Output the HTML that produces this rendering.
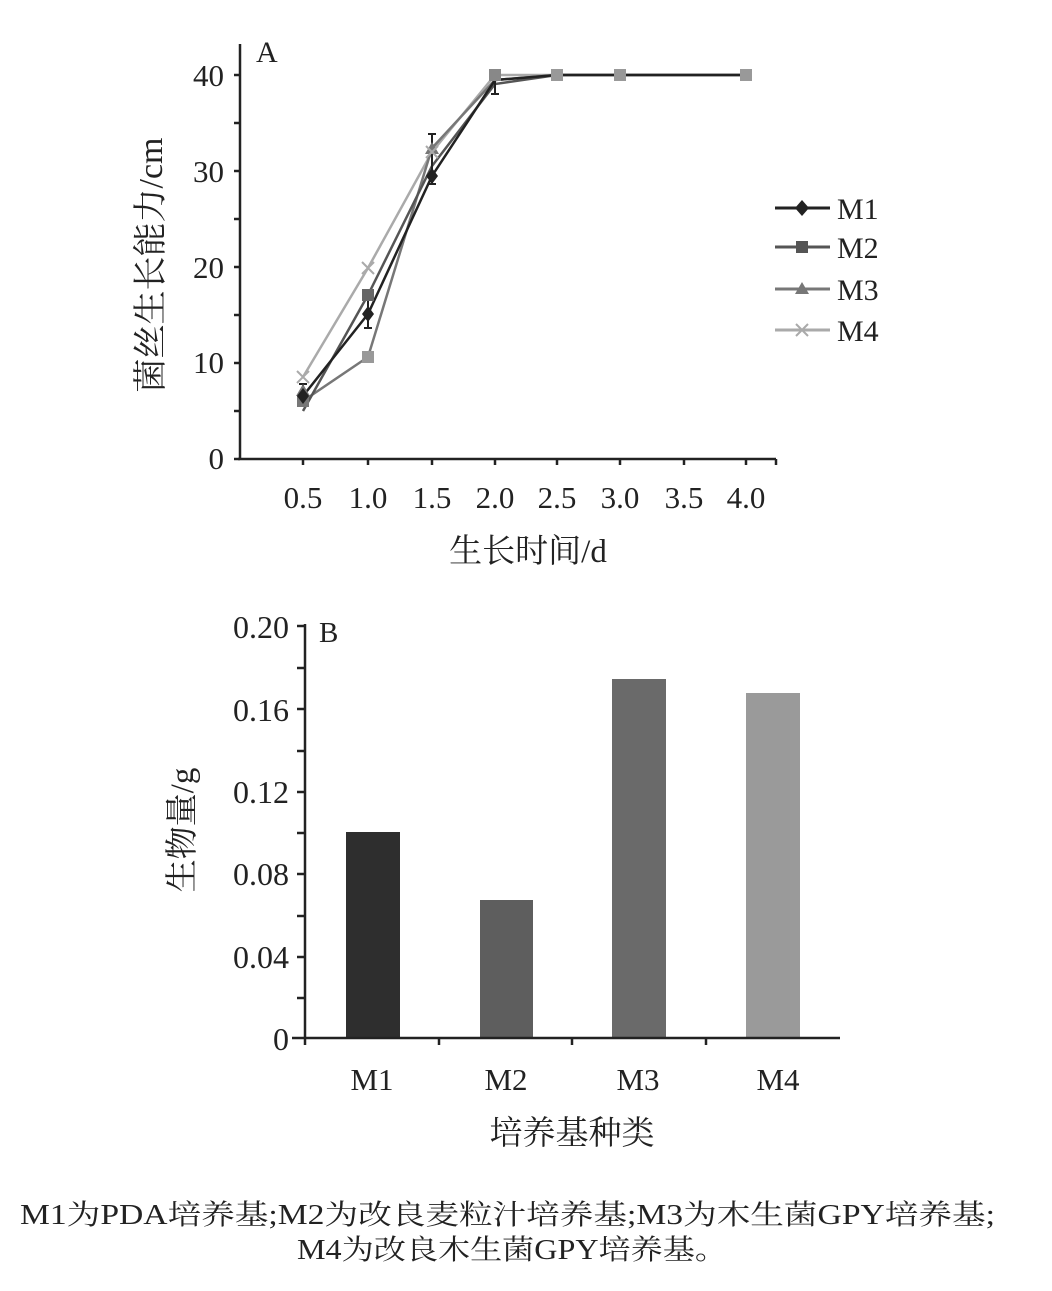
<!DOCTYPE html>
<html><head><meta charset="utf-8"><style>
body{margin:0;background:#fff}
svg text{font-family:"Liberation Serif","Noto Serif CJK SC",serif;fill:#222}
</style></head><body>
<svg width="1052" height="1286" viewBox="0 0 1052 1286" xmlns="http://www.w3.org/2000/svg">
<!-- Chart A -->
<g stroke="#222" stroke-width="2.5" fill="none">
<line x1="240" y1="44" x2="240" y2="460"/>
<line x1="238" y1="459" x2="776" y2="459"/>
<path d="M240 75h-6M240 123h-6M240 171h-6M240 219h-6M240 267h-6M240 315h-6M240 363h-6M240 411h-6M240 459h-6"/>
<path d="M303 459v6M368 459v6M432 459v6M495 459v6M557 459v6M620 459v6M684 459v6M746 459v6M776 459v6"/>
</g>
<g font-size="31" text-anchor="end">
<text x="224" y="86">40</text><text x="224" y="182">30</text><text x="224" y="278">20</text><text x="224" y="373">10</text><text x="224" y="469">0</text>
</g>
<g font-size="31" text-anchor="middle">
<text x="303" y="508">0.5</text><text x="368" y="508">1.0</text><text x="432" y="508">1.5</text><text x="495" y="508">2.0</text><text x="557" y="508">2.5</text><text x="620" y="508">3.0</text><text x="684" y="508">3.5</text><text x="746" y="508">4.0</text>
</g>
<text x="256" y="62" font-size="30">A</text>
<text x="528" y="562" font-size="33" text-anchor="middle">生长时间/d</text>
<text transform="translate(162,265) rotate(-90)" font-size="34" text-anchor="middle">菌丝生长能力/cm</text>
<g fill="none" stroke-width="2.5">
<polyline stroke="#aaa" points="303,377 368,268 432,152 495,75 557,75 620,75 746,75"/>
<polyline stroke="#777" points="303,401 368,357 432,148 495,80 557,75 620,75 746,75"/>
<polyline stroke="#555" points="303,411 368,295 432,166 495,84 557,75 620,75 746,75"/>
<polyline stroke="#222" points="303,396 368,314 432,176 495,80 557,75 620,75 746,75"/>
</g>
<g stroke="#222" stroke-width="2">
<path d="M432 134v50M428 134h8M428 184h8M368 300v28M364 300h8M364 328h8M495 70v24M491 70h8M491 94h8M303 384v20M299 384h8"/>
</g>
<g fill="#777">
<rect x="297" y="395" width="12" height="12"/><rect x="362" y="289" width="12" height="12" fill="#666"/><rect x="362" y="351" width="12" height="12" fill="#999"/>
<rect x="551" y="69" width="12" height="12" fill="#999"/><rect x="614" y="69" width="12" height="12" fill="#999"/><rect x="740" y="69" width="12" height="12" fill="#999"/>
<rect x="489" y="69" width="12" height="12" fill="#888"/>
</g>
<path d="M303 384l7 12h-14z M432 142l7 12h-14z" fill="#777"/>
<path d="M297 371l12 12M309 371l-12 12M362 262l12 12M374 262l-12 12M426 146l12 12M438 146l-12 12" stroke="#aaa" stroke-width="2"/>
<path d="M303 388l6 8-6 8-6-8z M368 306l6 8-6 8-6-8z M432 168l6 8-6 8-6-8z" fill="#222"/>
<!-- legend -->
<g stroke-width="3">
<line x1="775" y1="208" x2="830" y2="208" stroke="#222"/>
<line x1="775" y1="247" x2="830" y2="247" stroke="#555"/>
<line x1="775" y1="289" x2="830" y2="289" stroke="#777"/>
<line x1="775" y1="330" x2="830" y2="330" stroke="#aaa"/>
</g>
<path d="M802 200l7 8-7 8-7-8z" fill="#222"/>
<rect x="796" y="241" width="12" height="12" fill="#555"/>
<path d="M802 282l7 12h-14z" fill="#777"/>
<path d="M796 324l12 12M808 324l-12 12" stroke="#aaa" stroke-width="2"/>
<g font-size="30"><text x="837" y="219">M1</text><text x="837" y="258">M2</text><text x="837" y="300">M3</text><text x="837" y="341">M4</text></g>

<!-- Chart B -->
<rect x="346" y="832" width="54" height="206" fill="#2e2e2e"/>
<rect x="480" y="900" width="53" height="138" fill="#5e5e5e"/>
<rect x="612" y="679" width="54" height="359" fill="#6a6a6a"/>
<rect x="746" y="693" width="54" height="345" fill="#9a9a9a"/>
<g stroke="#222" stroke-width="2.5" fill="none">
<line x1="305" y1="624" x2="305" y2="1045"/>
<line x1="292" y1="1038" x2="840" y2="1038"/>
<path d="M305 626h-8M305 668h-8M305 709h-8M305 751h-8M305 792h-8M305 833h-8M305 874h-8M305 916h-8M305 957h-8M305 998h-8"/>
<path d="M439 1038v7M572 1038v7M706 1038v7"/>
</g>
<g font-size="32" text-anchor="end">
<text x="289" y="638">0.20</text><text x="289" y="721">0.16</text><text x="289" y="803">0.12</text><text x="289" y="885">0.08</text><text x="289" y="968">0.04</text><text x="289" y="1050">0</text>
</g>
<g font-size="31" text-anchor="middle">
<text x="372" y="1090">M1</text><text x="506" y="1090">M2</text><text x="638" y="1090">M3</text><text x="778" y="1090">M4</text>
</g>
<text x="319" y="642" font-size="29">B</text>
<text x="572" y="1144" font-size="33" text-anchor="middle">培养基种类</text>
<text transform="translate(193,830) rotate(-90)" font-size="33" text-anchor="middle">生物量/g</text>
<!-- caption -->
<text x="20" y="1224" font-size="28" textLength="975" lengthAdjust="spacingAndGlyphs">M1为PDA培养基;M2为改良麦粒汁培养基;M3为木生菌GPY培养基;</text>
<text x="297" y="1259" font-size="28" textLength="430" lengthAdjust="spacingAndGlyphs">M4为改良木生菌GPY培养基。</text>
</svg>
</body></html>
